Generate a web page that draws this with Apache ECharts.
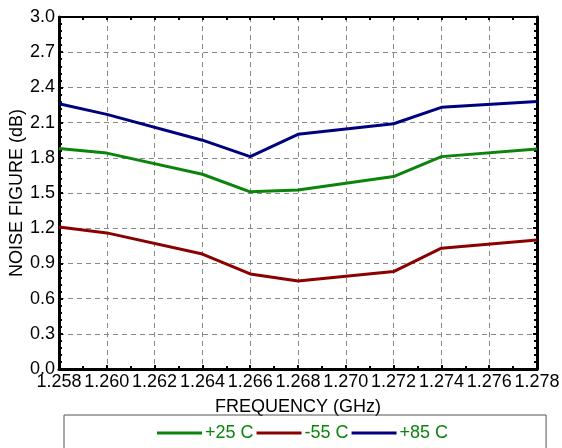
<!DOCTYPE html>
<html>
<head>
<meta charset="utf-8">
<script src="https://cdn.jsdelivr.net/npm/echarts@6/dist/echarts.min.js"></script>
<style>
html,body{margin:0;padding:0;background:#fff;}
#chart{width:562px;height:448px;}
</style>
</head>
<body>
<div id="chart"></div>
<script>
// frequency points (GHz)
var freq = [1.258, 1.260, 1.264, 1.266, 1.268, 1.272, 1.274, 1.278]
// noise figure (dB) per temperature
var nf25 = [1.88, 1.84, 1.66, 1.51, 1.525, 1.64, 1.81, 1.875]
var nfM55 = [1.21, 1.16, 0.98, 0.81, 0.75, 0.83, 1.03, 1.10]
var nf85 = [2.26, 2.17, 1.95, 1.81, 2.00, 2.09, 2.23, 2.28]
var seriesNames = ['+25 C', '-55 C', '+85 C']
var seriesColors = ['#0b840b', '#8b0000', '#00007f']

function pairs(ys){
	return freq.map(function(x, i){ return [x, ys[i]] })
}

var font = 'Liberation Sans, Arial, sans-serif'
var gridLine = {show: true, lineStyle: {color: '#888', type: [5, 4], width: 1}}

var option = {
	animation: false,
	backgroundColor: '#fff',
	grid: {left: 59, top: 17, width: 478, height: 352, containLabel: false, outerBoundsMode: 'none'},
	legend: {
		left: 64, top: 415,
		padding: [9, 98, 12, 93],
		itemGap: 3,
		itemWidth: 45, itemHeight: 3,
		borderColor: '#555', borderWidth: 1,
		textStyle: {color: '#0b840b', fontSize: 18, fontFamily: font, padding: [0, 0, 0, -2]},
		icon: 'rect',
		data: seriesNames
	},
	xAxis: [{
		type: 'value', min: 1.258, max: 1.278, interval: 0.002,
		name: 'FREQUENCY (GHz)', nameLocation: 'middle', nameGap: 29, nameMoveOverlap: false,
		nameTextStyle: {fontSize: 18, fontFamily: font, color: '#000'},
		axisLine: {show: true, onZero: false, lineStyle: {color: '#000', width: 3}},
		axisTick: {inside: true, length: 4, lineStyle: {color: '#000', width: 2}},
		minorTick: {show: true, splitNumber: 2, length: 3, lineStyle: {color: '#000', width: 2}},
		axisLabel: {fontSize: 18, fontFamily: font, color: '#000', margin: 4,
			formatter: function(v){ return v.toFixed(3) }},
		splitLine: gridLine
	}, {
		type: 'value', min: 1.258, max: 1.278, interval: 0.002, position: 'top',
		axisLine: {show: true, onZero: false, lineStyle: {color: '#000', width: 2}},
		axisTick: {inside: true, length: 3, lineStyle: {color: '#000', width: 2}},
		minorTick: {show: true, splitNumber: 2, length: 3, lineStyle: {color: '#000', width: 2}},
		axisLabel: {show: false},
		splitLine: {show: false}
	}],
	yAxis: [{
		type: 'value', min: 0, max: 3, interval: 0.3,
		name: 'NOISE FIGURE (dB)', nameLocation: 'middle', nameGap: 33, nameMoveOverlap: false,
		nameTextStyle: {fontSize: 18, fontFamily: font, color: '#000'},
		axisLine: {show: true, onZero: false, lineStyle: {color: '#000', width: 3}},
		axisTick: {inside: true, length: 4, lineStyle: {color: '#000', width: 2}},
		minorTick: {show: true, splitNumber: 5, length: 3, lineStyle: {color: '#000', width: 2}},
		axisLabel: {fontSize: 18, fontFamily: font, color: '#000', margin: 4,
			formatter: function(v){ return v.toFixed(1) }},
		splitLine: gridLine
	}, {
		type: 'value', min: 0, max: 3, interval: 0.3, position: 'right',
		axisLine: {show: true, onZero: false, lineStyle: {color: '#000', width: 3}},
		axisTick: {inside: true, length: 4, lineStyle: {color: '#000', width: 2}},
		minorTick: {show: true, splitNumber: 5, length: 3, lineStyle: {color: '#000', width: 2}},
		axisLabel: {show: false},
		splitLine: {show: false}
	}],
	series: [nf25, nfM55, nf85].map(function(ys, i){
		return {
			name: seriesNames[i], type: 'line',
			data: pairs(ys),
			symbol: 'none',
			color: seriesColors[i],
			lineStyle: {color: seriesColors[i], width: 3}
		}
	})
}

var myChart = echarts.init(document.getElementById('chart'), null, {renderer: 'canvas'})
myChart.setOption(option)
</script>
</body>
</html>
